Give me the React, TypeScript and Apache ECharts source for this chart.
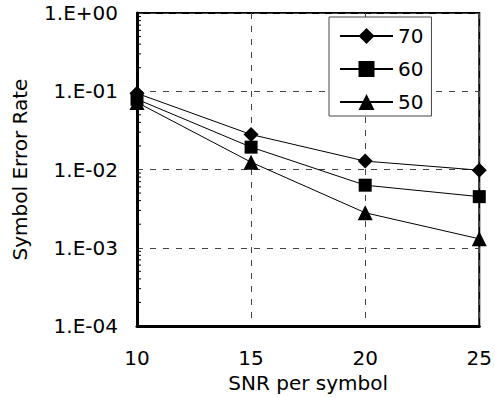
import React, { useEffect, useRef } from "react";
import * as echarts from "echarts";

const snr = [10, 15, 20, 25];
const ser70 = [0.094, 0.028, 0.0128, 0.0098];
const ser60 = [0.079, 0.0193, 0.0063, 0.0045];
const ser50 = [0.072, 0.0124, 0.0028, 0.0013];
const seriesNames = ["70", "60", "50"];
const yTickLabels: Record<string, string> = {
  "-4": "1.E-04",
  "-3": "1.E-03",
  "-2": "1.E-02",
  "-1": "1.E-01",
  "0": "1.E+00",
};
const minorDecades = [-4, -3, -2, -1];
const minorMantissas = [2, 3, 4, 5, 6, 7, 8, 9];

const FONT = "DejaVu Sans";

export default function App() {
  const ref = useRef<HTMLDivElement>(null);
  useEffect(() => {
    if (!ref.current) return;
    const chart = echarts.init(ref.current, null, { renderer: "svg" });
    const minorData: number[][] = [];
    minorDecades.forEach((d) =>
      minorMantissas.forEach((m) => minorData.push([snr[0], m * Math.pow(10, d)]))
    );
    const mk = (vals: number[]) => snr.map((x, i) => [x, vals[i]]);
    const lineStyle = { color: "#000", width: 1 };
    chart.setOption({
      animation: false,
      backgroundColor: "#fff",
      textStyle: { fontFamily: FONT },
      grid: {
        left: 137,
        top: 13,
        width: 345,
        height: 313,
        show: true,
        borderColor: "#000",
        borderWidth: 2,
      },
      legend: {
        data: seriesNames,
        orient: "vertical",
        left: 329,
        top: 17,
        itemWidth: 53,
        itemHeight: 20,
        itemGap: 13,
        padding: [9, 8, 4, 10],
        backgroundColor: "#fff",
        borderColor: "#444",
        borderWidth: 1,
        textStyle: { fontFamily: FONT, fontSize: 20, color: "#000" },
      },
      xAxis: {
        type: "value",
        min: 10,
        max: 25,
        interval: 5,
        name: "SNR per symbol",
        nameLocation: "middle",
        nameGap: 47,
        nameTextStyle: { fontFamily: FONT, fontSize: 20, color: "#000" },
        axisLine: { show: true, lineStyle: { color: "#000", width: 3 } },
        axisTick: { show: false },
        axisLabel: { fontFamily: FONT, fontSize: 20, color: "#000", margin: 22 },
        splitLine: { show: true, lineStyle: { color: "#444", type: [6, 7], width: 1 } },
      },
      yAxis: {
        type: "log",
        min: 1e-4,
        max: 1,
        logBase: 10,
        name: "Symbol Error Rate",
        nameLocation: "middle",
        nameGap: 107,
        nameTextStyle: { fontFamily: FONT, fontSize: 20, color: "#000" },
        axisLine: { show: true, lineStyle: { color: "#000", width: 3 } },
        axisTick: { show: false },
        axisLabel: {
          fontFamily: FONT,
          fontSize: 20,
          color: "#000",
          margin: 19,
          formatter: (v: number) => yTickLabels[String(Math.round(Math.log10(v)))] ?? "",
        },
        splitLine: { show: true, lineStyle: { color: "#444", type: [6, 7], width: 1 } },
      },
      series: [
        {
          name: "70",
          type: "line",
          data: mk(ser70),
          symbol: "diamond",
          symbolSize: 15,
          itemStyle: { color: "#000" },
          lineStyle,
          z: 5,
        },
        {
          name: "60",
          type: "line",
          data: mk(ser60),
          symbol: "rect",
          symbolSize: 13,
          itemStyle: { color: "#000" },
          lineStyle,
          z: 5,
        },
        {
          name: "50",
          type: "line",
          data: mk(ser50),
          symbol: "triangle",
          symbolSize: 15,
          itemStyle: { color: "#000" },
          lineStyle,
          z: 5,
        },
        {
          name: "minor",
          type: "custom",
          data: minorData,
          silent: true,
          z: 4,
          renderItem: (_p: any, api: any) => {
            const pt = api.coord([api.value(0), api.value(1)]);
            return {
              type: "line",
              shape: { x1: pt[0], y1: pt[1], x2: pt[0] + 4, y2: pt[1] },
              style: { stroke: "#000", lineWidth: 1 },
            };
          },
        },
      ],
    });
    return () => chart.dispose();
  }, []);
  return (
    <div
      ref={ref}
      style={{ position: "fixed", left: 0, top: 0, width: 495, height: 398 }}
    />
  );
}
